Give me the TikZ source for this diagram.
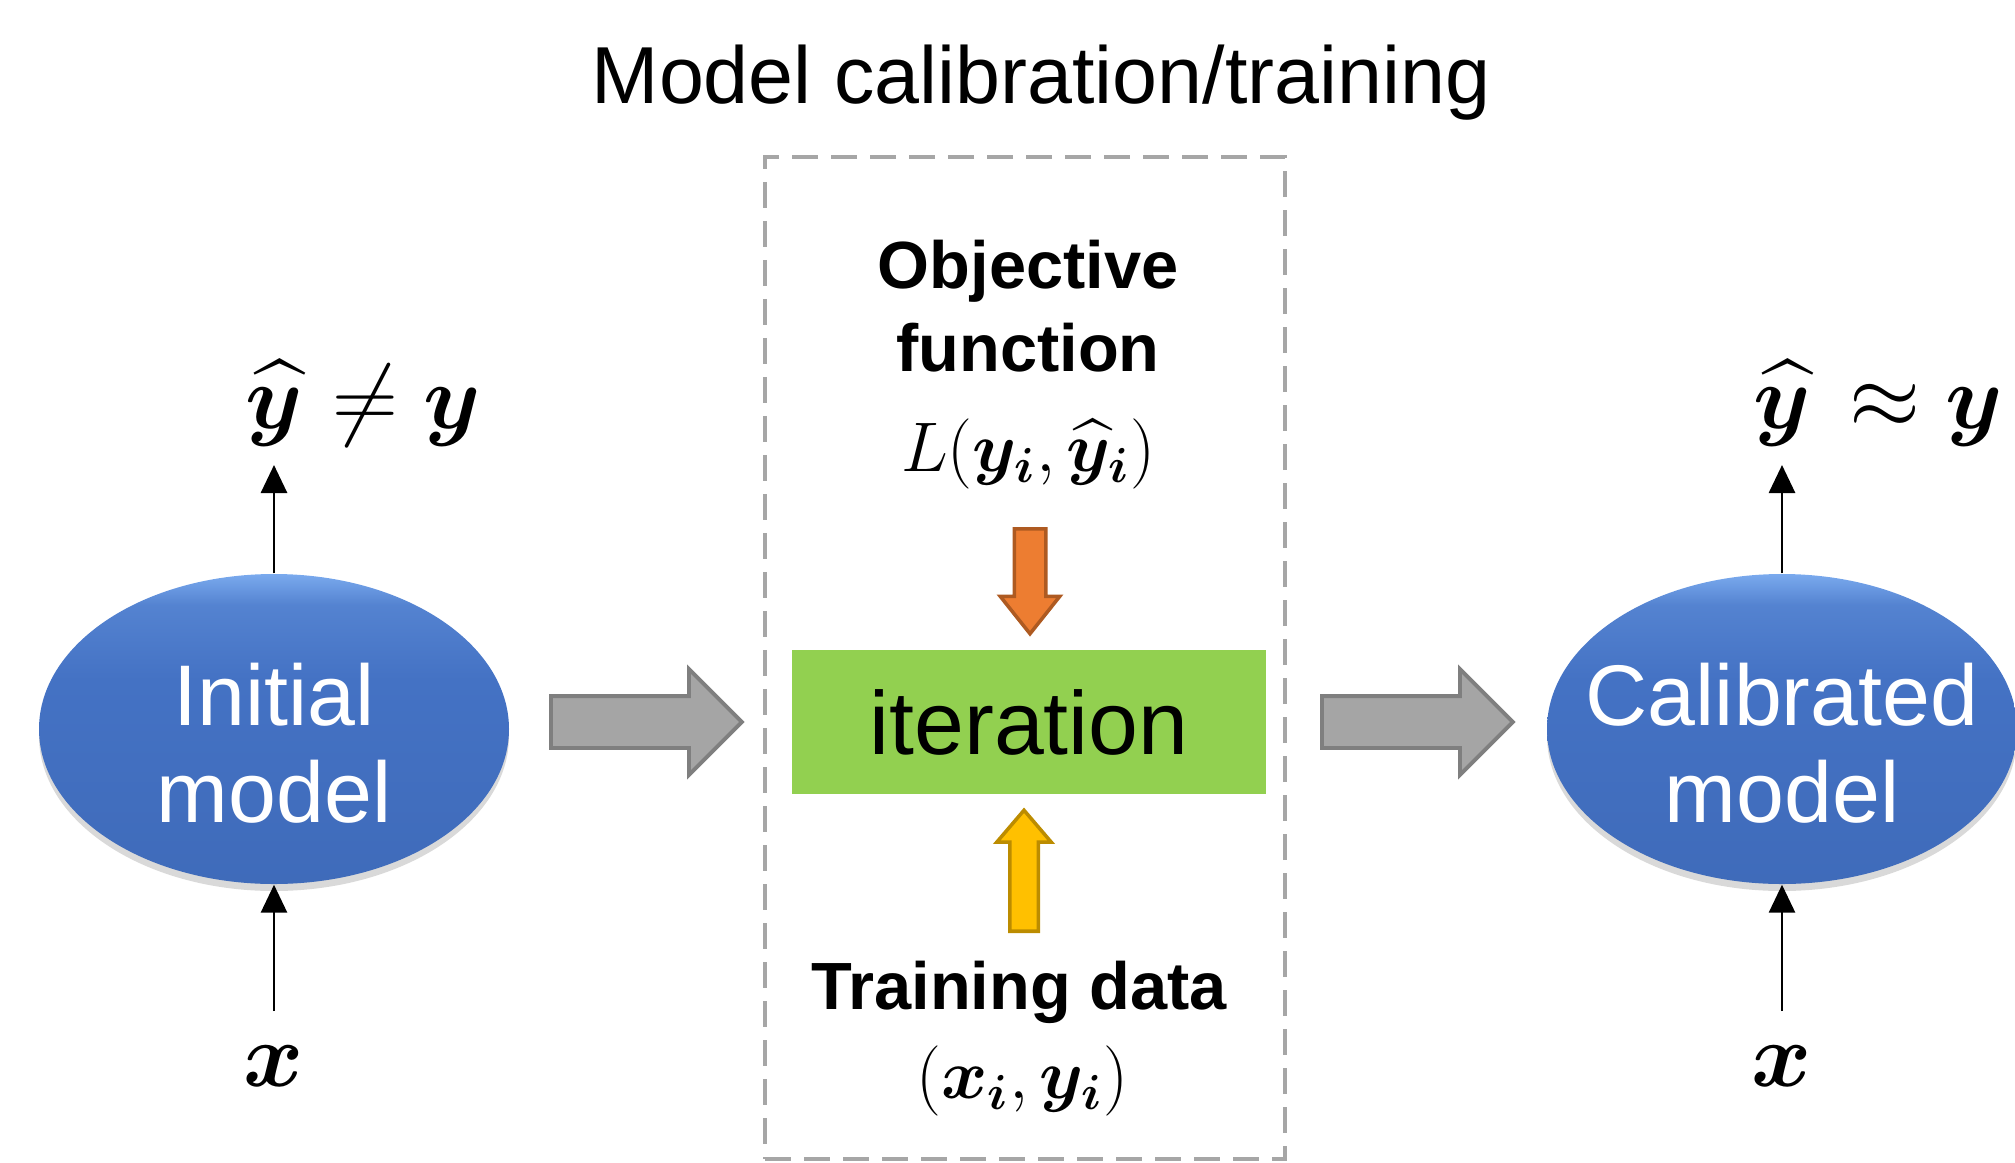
\RequirePackage{fix-cm}
\documentclass[tikz,border=0pt]{standalone}
\usepackage{amsmath}
\usepackage{amssymb}
\usepackage{bm}
\usepackage[no-math]{fontspec}
\setmainfont{Liberation Sans}
\usepackage{tikz}
\usepackage{xcolor}
\usetikzlibrary{positioning, arrows.meta, shadows}
\usetikzlibrary{shapes.geometric, shapes.arrows}

\definecolor{ellblue}{HTML}{4472C4}
\definecolor{elldark}{HTML}{3F6BBA}
\definecolor{elltop}{HTML}{7AAAEE}
\definecolor{itergreen}{HTML}{92D050}
\definecolor{boxgray}{HTML}{A6A6A6}
\definecolor{blockgray}{HTML}{A5A5A5}
\definecolor{blockedge}{HTML}{7F7F7F}
\definecolor{objorange}{HTML}{ED7D31}
\definecolor{objedge}{HTML}{AE5A21}
\definecolor{datayellow}{HTML}{FFC000}
\definecolor{dataedge}{HTML}{BC8C00}

\pgfdeclareverticalshading{modelshade}{100bp}{color(0bp)=(elldark); color(25bp)=(elldark); color(58bp)=(ellblue); color(70bp)=(ellblue!70!elltop); color(75bp)=(elltop); color(100bp)=(elltop)}

\begin{document}
\begin{tikzpicture}[
        model/.style={ellipse, minimum width=4.7cm, minimum height=3.1cm, inner sep=0pt, shading=modelshade, drop shadow={opacity=0.3, shadow xshift=0cm, shadow yshift=-0.07cm}},
        modeltext/.style={text=white, align=center, inner sep=0pt, font=\fontsize{24.5}{27.5}\selectfont},
        blockarrow/.style={single arrow, inner xsep=0pt, line width=1pt, single arrow head indent=0pt, anchor=tail},
        grayarrow/.style={blockarrow, draw=blockedge, fill=blockgray, line width=1.1pt, minimum height=1.91cm, inner ysep=0.24cm, single arrow head extend=0.27cm},
        thinarrow/.style={-{Triangle[length=0.28cm, width=0.26cm]}, line width=0.8pt},
        mathlabel/.style={font=\fontsize{26}{30}\selectfont, anchor=base, inner sep=0pt},
        boldlabel/.style={font=\fontsize{19}{23.7}\selectfont\bfseries, align=center, inner sep=0pt}
    ]
    \useasboundingbox (0, 0) rectangle (20.15, 11.62);

    \node[anchor=base, font=\fontsize{23}{27}\selectfont] (title) at (10.41, 10.59) {Model calibration/training};
    \node[draw=boxgray, line width=0.9pt, dash pattern=on 0.26cm off 0.13cm, minimum width=5.2cm, minimum height=10.02cm, inner sep=0pt] (trainbox) at (10.25, 5.04) {};

    \node[model] (initial) at (2.74, 4.33) {};
    \node[modeltext] (initialtext) at ([yshift=-0.14cm]initial.center) {Initial\\model};
    \node[model] (calibrated) at (17.82, 4.33) {};
    \node[modeltext] (calibratedtext) at ([yshift=-0.14cm]calibrated.center) {Calibrated\\model};

    \node[rectangle, fill=itergreen, minimum width=4.74cm, minimum height=1.44cm, inner sep=0pt, font=\fontsize{25.5}{30}\selectfont] (iteration) at (10.29, 4.40) {iteration};

    \node[boldlabel] (objective) at (10.28, 8.56) {Objective\\function};
    \node[font=\fontsize{20}{24}\selectfont, inner sep=0pt] (loss) at (10.28, 7.08) {$L(\bm{y}_{\bm{i}}, \widehat{\bm{y}}_{\bm{i}})$};
    \node[boldlabel, anchor=base] (training) at (10.19, 1.53) {Training data};
    \node[font=\fontsize{20}{24}\selectfont, inner sep=0pt] (pairs) at (10.22, 0.81) {$(\bm{x}_{\bm{i}}, \bm{y}_{\bm{i}})$};

    \node[blockarrow, draw=objedge, fill=objorange, rotate=-90, minimum height=1.05cm, inner ysep=0.14cm, single arrow head extend=0.14cm, single arrow tip angle=77] (lossarrow) at (10.30, 6.35) {};
    \node[blockarrow, draw=dataedge, fill=datayellow, rotate=90, minimum height=1.21cm, inner ysep=0.125cm, single arrow head extend=0.13cm, single arrow tip angle=81] (dataarrow) at (10.24, 2.29) {};

    \node[grayarrow] (toiter) at (5.49, 4.40) {};
    \node[grayarrow] (fromiter) at (13.20, 4.40) {};

    \node[mathlabel] (yhatL) at (2.74, 7.34) {$\widehat{\bm{y}}$};
    \node[mathlabel] (neqL) at (4.07, 7.34) {$\neq\bm{y}$};
    \node[mathlabel] (xL) at (2.74, 0.76) {$\bm{x}$};
    \node[mathlabel] (yhatR) at (17.82, 7.34) {$\widehat{\bm{y}}$};
    \node[mathlabel] (approxR) at (19.26, 7.34) {$\approx\bm{y}$};
    \node[mathlabel] (xR) at (17.82, 0.76) {$\bm{x}$};

    \coordinate (outL) at (2.74, 6.97);
    \coordinate (inL) at (2.74, 1.51);
    \coordinate (outR) at (17.82, 6.97);
    \coordinate (inR) at (17.82, 1.51);

    \draw[thinarrow] (initial.north) -- (outL);
    \draw[thinarrow] (inL) -- (initial.south);
    \draw[thinarrow] (calibrated.north) -- (outR);
    \draw[thinarrow] (inR) -- (calibrated.south);
\end{tikzpicture}
\end{document}
